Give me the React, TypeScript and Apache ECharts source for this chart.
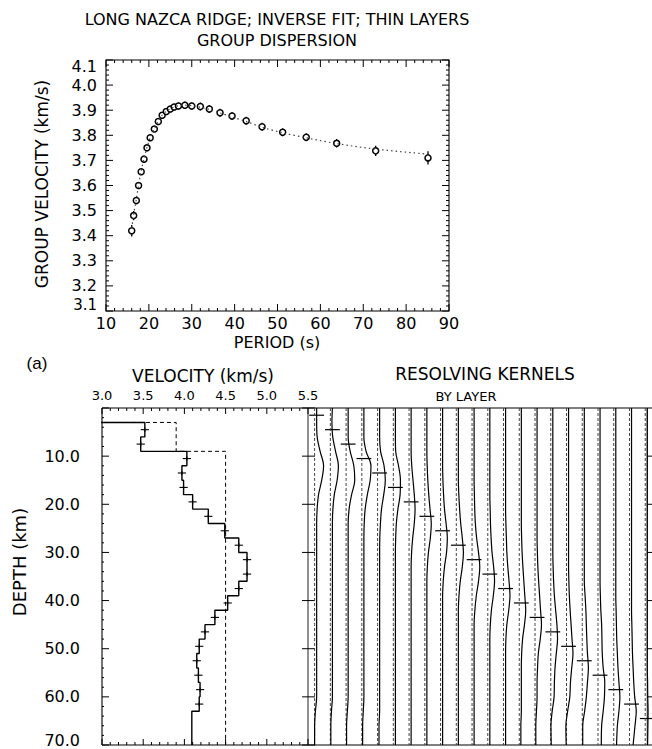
import React, { useEffect, useRef } from "react";
import * as echarts from "echarts";

// ---------- Group dispersion (top panel) ----------
const PERIOD = [16.0, 16.45, 17.07, 17.6, 18.2, 18.86, 19.56, 20.3, 21.27, 22.2, 23.1, 24.06, 25.0, 25.9, 26.9, 28.4, 30.0, 32.0, 34.1, 36.6, 39.4, 42.7, 46.4, 51.2, 56.7, 63.8, 72.9, 85.1];
const GROUP_VEL = [3.42, 3.48, 3.54, 3.6, 3.655, 3.705, 3.75, 3.79, 3.825, 3.855, 3.88, 3.895, 3.905, 3.913, 3.917, 3.92, 3.917, 3.915, 3.905, 3.89, 3.877, 3.858, 3.834, 3.812, 3.792, 3.768, 3.738, 3.71];
const GROUP_ERR = [0.023, 0.018, 0.015, 0.013, 0.012, 0.012, 0.012, 0.012, 0.012, 0.012, 0.012, 0.012, 0.013, 0.013, 0.014, 0.015, 0.015, 0.016, 0.016, 0.016, 0.016, 0.016, 0.016, 0.016, 0.016, 0.017, 0.02, 0.026];
const FIT_VEL = [3.43, 3.485, 3.545, 3.603, 3.657, 3.707, 3.752, 3.79, 3.826, 3.857, 3.88, 3.896, 3.906, 3.913, 3.918, 3.92, 3.918, 3.912, 3.903, 3.889, 3.873, 3.855, 3.832, 3.81, 3.79, 3.767, 3.745, 3.725];
const PERIOD_TICKS = [10, 20, 30, 40, 50, 60, 70, 80, 90];
const GV_TICKS = [3.1, 3.2, 3.3, 3.4, 3.5, 3.6, 3.7, 3.8, 3.9, 4.0, 4.1];

// ---------- Velocity model (bottom left) ----------
const LAYER_TOP = [0, 3, 6, 9, 12, 15, 18, 21, 24, 27, 30, 33, 36, 39, 42, 45, 48, 51, 54, 57, 60, 63, 66];
const MODEL_VEL = [1.5, 3.52, 3.47, 4.03, 3.97, 3.99, 4.1, 4.29, 4.49, 4.66, 4.76, 4.76, 4.66, 4.525, 4.37, 4.25, 4.18, 4.15, 4.17, 4.19, 4.18, 4.09, 4.09];
const START_TOP = [0, 3, 9];
const START_VEL = [1.5, 3.9, 4.5];
const MODEL_BASE = 70;
const CROSS_LAYERS = [1, 2, 3, 4, 5, 6, 7, 8, 9, 10, 11, 12, 13, 14, 15, 16, 17, 18, 19, 20];
const VEL_TICKS = [3.0, 3.5, 4.0, 4.5, 5.0, 5.5];
const DEPTH_TICKS = [0, 10, 20, 30, 40, 50, 60, 70];

// ---------- Resolving kernels (bottom right) ----------
const KDEPTH = [0, 3, 6, 9, 12, 15, 18, 21, 24, 27, 30, 33, 36, 39, 42, 45, 48, 51, 54, 57, 60, 63, 66, 70];
const KERNELS = [
  [0, 0, 0.03, 0.22, 0.44, 0.32, 0.12, 0.03, 0, 0, 0, 0, 0, 0, 0, 0, 0, 0, 0, 0, 0, -0.08, -0.13, -0.13],
  [0, -0.03, 0.02, 0.2, 0.38, 0.3, 0.12, 0.03, 0, 0, 0, 0, 0, 0, 0, 0, 0, 0, 0, 0, 0, -0.06, -0.1, -0.1],
  [0, 0, 0, 0.13, 0.36, 0.42, 0.22, 0.06, 0, 0, 0, 0, 0, 0, 0, 0, 0, 0, 0, 0, 0, -0.05, -0.1, -0.1],
  [0, 0, 0, 0.14, 0.45, 0.4, 0.22, 0.08, 0.02, 0, 0, 0, 0, 0, 0, 0, 0, 0, 0, 0, 0, -0.04, -0.08, -0.08],
  [0, 0, 0, 0.06, 0.28, 0.36, 0.26, 0.12, 0.05, 0.01, 0, 0, 0, 0, 0, 0, 0, 0, 0, 0, 0, 0, -0.04, -0.04],
  [0, 0, 0, 0.02, 0.2, 0.32, 0.3, 0.16, 0.06, 0.02, 0, 0, 0, 0, 0, 0, 0, 0, 0, 0, 0, 0, 0, 0],
  [0, 0, 0, 0, 0.04, 0.12, 0.2, 0.25, 0.2, 0.1, 0.03, 0, 0, 0, 0, 0, 0, 0, 0, 0, 0, 0, 0, 0],
  [0, 0, 0, 0, 0.02, 0.06, 0.12, 0.2, 0.28, 0.22, 0.1, 0.03, 0, 0, 0, 0, 0, 0, 0, 0, 0, 0, 0, 0],
  [0, 0, 0, 0, 0, 0.02, 0.06, 0.12, 0.22, 0.3, 0.25, 0.12, 0.04, 0, 0, 0, 0, 0, 0, 0, 0, 0, 0, 0],
  [0, 0, 0, 0, 0, 0, 0.03, 0.08, 0.15, 0.25, 0.32, 0.25, 0.12, 0.04, 0, 0, 0, 0, 0, 0, 0, 0, 0, 0],
  [0, 0, 0, 0, 0, 0, 0.02, 0.04, 0.08, 0.16, 0.28, 0.36, 0.28, 0.14, 0.05, 0, 0, 0, 0, 0, 0, 0, 0, 0],
  [0, 0, 0, 0, 0, 0, 0, 0.02, 0.04, 0.08, 0.14, 0.24, 0.3, 0.22, 0.1, 0.03, 0, 0, 0, 0, 0, 0, 0, 0],
  [0, 0, 0, 0, 0, 0, 0, 0, 0.02, 0.05, 0.08, 0.14, 0.22, 0.28, 0.2, 0.08, 0.02, 0, 0, 0, 0, 0, 0, 0],
  [0, 0, 0, 0, 0, 0, 0, 0, 0, 0.02, 0.05, 0.1, 0.16, 0.22, 0.28, 0.2, 0.08, 0.02, 0, 0, 0, 0, -0.03, -0.03],
  [0, 0, 0, 0, 0, 0, 0, 0, 0, 0, 0.02, 0.05, 0.1, 0.16, 0.22, 0.28, 0.2, 0.08, 0.03, 0, 0, -0.04, -0.08, -0.08],
  [0, 0, 0, 0, 0, 0, 0, 0, 0, 0, 0, 0.02, 0.05, 0.1, 0.18, 0.26, 0.3, 0.22, 0.14, 0.1, 0.08, -0.04, -0.12, -0.1],
  [0, 0, 0, 0, 0, 0, 0, 0, 0, 0, 0, 0, 0.02, 0.05, 0.1, 0.16, 0.22, 0.28, 0.2, 0.12, 0.08, -0.06, -0.17, -0.15],
  [0, 0, 0, 0, 0, 0, 0, 0, 0, 0, 0, 0, 0, 0.05, 0.1, 0.13, 0.16, 0.2, 0.26, 0.2, 0.13, 0.02, -0.1, -0.1],
  [0, 0, 0, 0, 0, 0, 0, 0, 0, 0, 0, 0, 0, 0.02, 0.05, 0.1, 0.12, 0.14, 0.2, 0.3, 0.28, 0.2, 0.1, 0.08],
  [0, 0, 0, 0, 0, 0, 0, 0, 0, 0, 0, 0, 0, 0, 0.02, 0.04, 0.06, 0.1, 0.14, 0.2, 0.26, 0.2, 0.1, 0.05],
  [0, 0, 0, 0, 0, 0, 0, 0, 0, 0, 0, 0, 0, 0, 0, 0.02, 0.04, 0.06, 0.1, 0.14, 0.2, 0.3, 0.22, 0.1],
  [0, 0, 0, 0, 0, 0, 0, 0, 0, 0, 0, 0, 0, 0, 0, 0, 0, 0, 0, 0.02, 0.03, 0.05, 0.04, 0.02],
];
const KERNEL_LAYER_DEPTH = [1.5, 4.5, 7.5, 10.5, 13.5, 16.5, 19.5, 22.5, 25.5, 28.5, 31.5, 34.5, 37.5, 40.5, 43.5, 46.5, 49.5, 52.5, 55.5, 58.5, 61.5, 64.5];
const KERNEL_X_MIN = -0.55;
const KERNEL_X_MAX = 21.3;
const KERNEL_LAST = 21;

const FONT = "DejaVu Sans";
const INK = "#000000";
const GRAY = "#555555";

function stepPoints(tops: number[], vels: number[], base: number) {
  const pts: number[][] = [];
  for (let k = 0; k < tops.length; k++) {
    const bottom = k + 1 < tops.length ? tops[k + 1] : base;
    pts.push([vels[k], tops[k]]);
    pts.push([vels[k], bottom]);
  }
  return pts;
}

function minors(ticks: number[], n: number) {
  const out: number[] = [];
  for (let i = 0; i + 1 < ticks.length; i++) {
    for (let k = 1; k < n; k++) out.push(ticks[i] + ((ticks[i + 1] - ticks[i]) * k) / n);
  }
  return out;
}

const near = (a: number, b: number) => Math.abs(a - b) < 1e-6;

function seg(x1: number, y1: number, x2: number, y2: number, stroke = INK, lineWidth = 1) {
  return { type: "line", silent: true, shape: { x1, y1, x2, y2 }, style: { stroke, lineWidth } };
}

const hiddenAxis = { axisLine: { show: false }, axisTick: { show: false }, splitLine: { show: false }, minorTick: { show: false } };

const textEls = [
  { type: "text", x: 277, y: 19, style: { text: "LONG NAZCA RIDGE; INVERSE FIT; THIN LAYERS", font: `16px "${FONT}"`, fill: INK, textAlign: "center", textVerticalAlign: "middle" } },
  { type: "text", x: 277, y: 40, style: { text: "GROUP DISPERSION", font: `16px "${FONT}"`, fill: INK, textAlign: "center", textVerticalAlign: "middle" } },
  { type: "text", x: 277, y: 342, style: { text: "PERIOD (s)", font: `16px "${FONT}"`, fill: INK, textAlign: "center", textVerticalAlign: "middle" } },
  { type: "text", x: 42, y: 184, rotation: Math.PI / 2, style: { text: "GROUP VELOCITY (km/s)", font: `17px "${FONT}"`, fill: INK, textAlign: "center", textVerticalAlign: "middle" } },
  { type: "text", x: 37, y: 363, style: { text: "(a)", font: `17px "Liberation Sans"`, fill: INK, textAlign: "center", textVerticalAlign: "middle" } },
  { type: "text", x: 203, y: 376, style: { text: "VELOCITY (km/s)", font: `17px "${FONT}"`, fill: INK, textAlign: "center", textVerticalAlign: "middle" } },
  { type: "text", x: 19, y: 562, rotation: Math.PI / 2, style: { text: "DEPTH (km)", font: `18px "${FONT}"`, fill: INK, textAlign: "center", textVerticalAlign: "middle" } },
  { type: "text", x: 485, y: 374, style: { text: "RESOLVING KERNELS", font: `17px "${FONT}"`, fill: INK, textAlign: "center", textVerticalAlign: "middle" } },
  { type: "text", x: 466, y: 396, style: { text: "BY LAYER", font: `13px "${FONT}"`, fill: INK, textAlign: "center", textVerticalAlign: "middle" } },
];

export default function App() {
  const ref = useRef<HTMLDivElement>(null);
  useEffect(() => {
    if (!ref.current) return;
    const chart = echarts.init(ref.current, undefined, { renderer: "svg" });

    const kernelSeries: any[] = [];
    KERNELS.forEach((row, i) => {
      kernelSeries.push({
        type: "line", xAxisIndex: 4, yAxisIndex: 4,
        data: KDEPTH.map((d) => [i - 0.13, d]),
        showSymbol: false, silent: true,
        lineStyle: { color: "#444", width: 1, type: [3, 2] },
      });
      kernelSeries.push({
        type: "line", xAxisIndex: 4, yAxisIndex: 4,
        data: row.map((o, j) => [i + o, KDEPTH[j]]),
        showSymbol: false, smooth: 0.35, silent: true,
        lineStyle: { color: INK, width: 1.2 },
      });
    });

    const labelFont = { color: INK, fontFamily: FONT };
    const P0 = PERIOD_TICKS[0], P1 = PERIOD_TICKS[PERIOD_TICKS.length - 1];
    const G0 = GV_TICKS[0], G1 = GV_TICKS[GV_TICKS.length - 1];
    const V0 = VEL_TICKS[0], V1 = VEL_TICKS[VEL_TICKS.length - 1];
    const D0 = DEPTH_TICKS[0], D1 = DEPTH_TICKS[DEPTH_TICKS.length - 1];

    const option: any = {
      animation: false,
      grid: [
        { left: 106, top: 60, width: 343, height: 251 },
        { left: 102, top: 408, width: 206, height: 337 },
        { left: 308, top: 408, width: 344, height: 337 },
      ],
      xAxis: [
        { gridIndex: 0, type: "value", min: P0, max: P1, interval: 10, position: "bottom", ...hiddenAxis,
          axisLabel: { ...labelFont, fontSize: 16, margin: 4 } },
        { gridIndex: 0, type: "value", min: P0, max: P1, interval: 10, position: "top", ...hiddenAxis, axisLabel: { show: false } },
        { gridIndex: 1, type: "value", min: V0, max: V1, interval: 0.5, position: "top", ...hiddenAxis,
          axisLabel: { ...labelFont, fontSize: 13, margin: 6, formatter: (v: number) => v.toFixed(1) } },
        { gridIndex: 1, type: "value", min: V0, max: V1, interval: 0.5, position: "bottom", ...hiddenAxis, axisLabel: { show: false } },
        { gridIndex: 2, type: "value", min: KERNEL_X_MIN, max: KERNEL_X_MAX, position: "top", ...hiddenAxis, axisLabel: { show: false } },
        { gridIndex: 2, type: "value", min: KERNEL_X_MIN, max: KERNEL_X_MAX, position: "bottom", ...hiddenAxis, axisLabel: { show: false } },
      ],
      yAxis: [
        {
          gridIndex: 0, type: "value", min: G0, max: G1, interval: 0.1, position: "left", ...hiddenAxis,
          axisLabel: {
            ...labelFont, fontSize: 16, margin: 9,
            formatter: (v: number) => (near(v, G1) ? `{t|${v.toFixed(1)}}` : near(v, G0) ? `{b|${v.toFixed(1)}}` : v.toFixed(1)),
            rich: {
              t: { ...labelFont, fontSize: 16, padding: [12, 0, 0, 0] },
              b: { ...labelFont, fontSize: 15, padding: [0, 0, 12, 0] },
            },
          },
        },
        { gridIndex: 0, type: "value", min: G0, max: G1, interval: 0.1, position: "right", ...hiddenAxis, axisLabel: { show: false } },
        {
          gridIndex: 1, type: "value", min: D0, max: D1, interval: 10, inverse: true, position: "left", ...hiddenAxis,
          axisLabel: {
            ...labelFont, fontSize: 16, margin: 22, showMinLabel: false,
            formatter: (v: number) => (near(v, D1) ? `{b|${v.toFixed(1)}}` : v.toFixed(1)),
            rich: { b: { ...labelFont, fontSize: 16, padding: [0, 0, 10, 0] } },
          },
        },
        { gridIndex: 1, type: "value", min: D0, max: D1, interval: 10, inverse: true, position: "right", ...hiddenAxis, axisLabel: { show: false } },
        { gridIndex: 2, type: "value", min: D0, max: D1, interval: 10, inverse: true, position: "left", ...hiddenAxis, axisLabel: { show: false } },
        { gridIndex: 2, type: "value", min: D0, max: D1, interval: 10, inverse: true, position: "right", ...hiddenAxis, axisLabel: { show: false } },
      ],
      graphic: { elements: textEls },
      series: [
        {
          type: "line", xAxisIndex: 0, yAxisIndex: 0,
          data: PERIOD.map((p, i) => [p, FIT_VEL[i]]),
          showSymbol: false, smooth: 0.3, silent: true,
          lineStyle: { color: "#444", width: 1.2, type: [1.5, 3] },
        },
        {
          type: "custom", xAxisIndex: 0, yAxisIndex: 0, silent: true,
          data: PERIOD.map((p, i) => [p, GROUP_VEL[i], GROUP_ERR[i]]),
          encode: { x: 0, y: 1 },
          renderItem: (_p: any, api: any) => {
            const x = api.value(0), y = api.value(1), e = api.value(2);
            const a = api.coord([x, y - e]);
            const b = api.coord([x, y + e]);
            return seg(a[0], a[1], b[0], b[1], INK, 1.3);
          },
        },
        {
          type: "scatter", xAxisIndex: 0, yAxisIndex: 0, silent: true,
          data: PERIOD.map((p, i) => [p, GROUP_VEL[i]]),
          symbol: "circle", symbolSize: 6,
          itemStyle: { color: "#fff", borderColor: INK, borderWidth: 1.5, opacity: 1 },
        },
        {
          type: "line", xAxisIndex: 2, yAxisIndex: 2,
          data: stepPoints(START_TOP, START_VEL, MODEL_BASE),
          showSymbol: false, silent: true,
          lineStyle: { color: INK, width: 1, type: [4, 3] },
        },
        {
          type: "line", xAxisIndex: 2, yAxisIndex: 2,
          data: stepPoints(LAYER_TOP, MODEL_VEL, MODEL_BASE),
          showSymbol: false, silent: true,
          lineStyle: { color: INK, width: 1.4 },
        },
        {
          type: "custom", xAxisIndex: 2, yAxisIndex: 2, silent: true,
          data: CROSS_LAYERS.map((k) => [MODEL_VEL[k], LAYER_TOP[k] + 1.5]),
          encode: { x: 0, y: 1 },
          renderItem: (_p: any, api: any) => {
            const v = api.value(0), d = api.value(1);
            const l = api.coord([v - 0.05, d]);
            const r = api.coord([v + 0.05, d]);
            const t = api.coord([v, d - 0.45]);
            const b = api.coord([v, d + 0.45]);
            return { type: "group", children: [seg(l[0], l[1], r[0], r[1], INK, 1.1), seg(t[0], t[1], b[0], b[1], INK, 1.1)] };
          },
        },
        ...kernelSeries,
        {
          type: "custom", xAxisIndex: 4, yAxisIndex: 4, silent: true,
          data: KERNEL_LAYER_DEPTH.map((d, i) => [i, d]),
          encode: { x: 0, y: 1 },
          renderItem: (_p: any, api: any) => {
            const i = api.value(0), d = api.value(1);
            const l = api.coord([i - 0.47, d]);
            const r = api.coord([i + 0.47, d]);
            return seg(l[0], l[1], r[0], r[1], INK, 1.2);
          },
        },
      ],
    };
    chart.setOption(option);

    // Frames and ticks, placed through the axes' own scales
    const g0 = { xAxisIndex: 0, yAxisIndex: 0 };
    const g1 = { xAxisIndex: 2, yAxisIndex: 2 };
    const g2 = { xAxisIndex: 4, yAxisIndex: 4 };
    const px = (f: any, pt: number[]) => chart.convertToPixel(f, pt) as number[];
    const els: any[] = [];

    // dispersion panel
    {
      const a = px(g0, [P0, G1]), b = px(g0, [P1, G0]);
      const L = a[0], T = a[1], R = b[0], B = b[1];
      els.push({ type: "rect", silent: true, z: 50, shape: { x: L, y: T, width: R - L, height: B - T }, style: { fill: "none", stroke: INK, lineWidth: 1.1 } });
      PERIOD_TICKS.forEach((v) => { const x = px(g0, [v, G0])[0]; els.push(seg(x, B, x, B - 7), seg(x, T, x, T + 7)); });
      minors(PERIOD_TICKS, 5).forEach((v) => { const x = px(g0, [v, G0])[0]; els.push(seg(x, B, x, B - 3), seg(x, T, x, T + 3)); });
      GV_TICKS.forEach((v) => { const y = px(g0, [P0, v])[1]; els.push(seg(L, y, L + 7, y), seg(R, y, R - 7, y)); });
      minors(GV_TICKS, 5).forEach((v) => { const y = px(g0, [P0, v])[1]; els.push(seg(L, y, L + 3, y), seg(R, y, R - 3, y)); });
    }
    // model panel
    {
      const a = px(g1, [V0, D0]), b = px(g1, [V1, D1]);
      const L = a[0], T = a[1], R = b[0], B = b[1];
      els.push(seg(L, T, R, T, INK, 1.1), seg(L, B, R, B, INK, 1.1), seg(L, T, L, B, INK, 1.1), seg(R, T, R, B, GRAY, 1.3));
      VEL_TICKS.forEach((v) => { const x = px(g1, [v, D0])[0]; els.push(seg(x, B, x, B - 6), seg(x, T, x, T + 6)); });
      minors(VEL_TICKS, 5).forEach((v) => { const x = px(g1, [v, D0])[0]; els.push(seg(x, B, x, B - 3), seg(x, T, x, T + 3)); });
      DEPTH_TICKS.forEach((v) => { const y = px(g1, [V0, v])[1]; els.push(seg(L, y, L + 7, y), seg(R - 6, y, R + 7, y)); });
      minors(DEPTH_TICKS, 5).forEach((v) => { const y = px(g1, [V0, v])[1]; els.push(seg(L, y, L + 2, y)); });
    }
    // kernel panel
    {
      const a = px(g2, [KERNEL_X_MIN, D0]), b = px(g2, [KERNEL_X_MAX, D1]);
      const L = a[0], T = a[1], R = b[0], B = b[1];
      const xr = px(g2, [KERNEL_LAST, D0])[0];
      els.push(seg(L, T, R, T, INK, 1.1), seg(L, B, R, B, INK, 1.1), seg(xr, T, xr, B, GRAY, 1.2));
      DEPTH_TICKS.slice(1, -1).forEach((v) => { const y = px(g2, [KERNEL_LAST, v])[1]; els.push(seg(xr, y, xr + 6, y)); });
    }

    chart.setOption({ graphic: { elements: [...textEls, ...els] } });
    return () => chart.dispose();
  }, []);
  return (
    <div
      ref={ref}
      style={{ position: "fixed", left: 0, top: 0, width: 652, height: 749, background: "#fff" }}
    />
  );
}
